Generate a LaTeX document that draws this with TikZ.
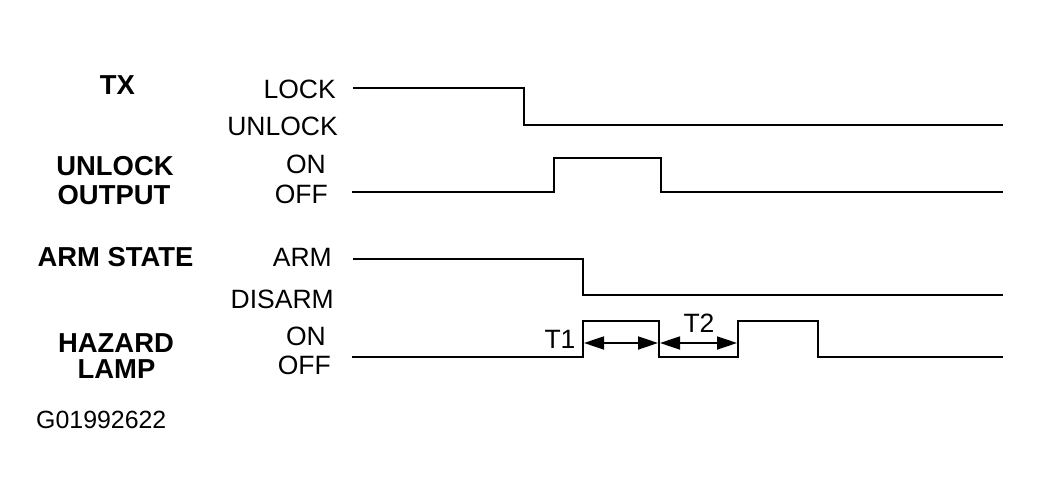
\documentclass[tikz,border=0pt]{standalone}
\usepackage{fontspec}
\setmainfont{Liberation Sans}
\usetikzlibrary{arrows.meta}
\begin{document}
\begin{tikzpicture}[x=1pt,y=-1pt,
  sig/.style={line width=2pt,line join=miter},
  lvl/.style={anchor=base,inner sep=0pt,font=\fontsize{26.5}{27}\selectfont},
  sname/.style={anchor=base,inner sep=0pt,font=\fontsize{27.4}{28}\selectfont\bfseries},
  dim/.style={line width=1.8pt,{Triangle[length=20pt,width=13pt]}-{Triangle[length=20pt,width=13pt]}}]
\useasboundingbox (0,0) rectangle (1044,503);
% left names
\node[sname] (tx) at (117.5,95) {TX};
\node[sname] (uo1) at (115,175) {UNLOCK};
\node[sname] (uo2) at (114,204) {OUTPUT};
\node[sname] (arm) at (115.5,266) {ARM STATE};
\node[sname] (hl1) at (116,352) {HAZARD};
\node[sname] (hl2) at (116.5,378) {LAMP};
\node[lvl,anchor=base west,font=\fontsize{24.9}{25}\selectfont] (code) at (36,428) {G01992622};
% levels
\node[lvl,anchor=base east] (lock) at (336,98) {LOCK};
\node[lvl,anchor=base east] (unlock) at (338,135) {UNLOCK};
\node[lvl] (on1) at (306,173) {ON};
\node[lvl,anchor=base east] (off1) at (328,203) {OFF};
\node[lvl,anchor=base east] (armlv) at (332,266) {ARM};
\node[lvl,anchor=base east] (disarm) at (334,308) {DISARM};
\node[lvl] (on2) at (306,345) {ON};
\node[lvl,anchor=base east] (off2) at (331,374) {OFF};
% waveforms
\draw[sig] (353,88) -- (524,88) -- (524,125) -- (1003,125);
\draw[sig] (352,192) -- (554,192) -- (554,158) -- (661,158) -- (661,192) -- (1003,192);
\draw[sig] (353,259) -- (583,259) -- (583,295) -- (1003,295);
\draw[sig] (352,357) -- (583,357) -- (583,321) -- (659,321) -- (659,357) -- (738,357) -- (738,321) -- (818,321) -- (818,357) -- (1003,357);
% timing arrows
\coordinate (a1) at (584,343);
\coordinate (a2) at (658,343);
\coordinate (b1) at (660,343);
\coordinate (b2) at (737,343);
\draw[dim] (a1) -- (a2);
\draw[dim] (b1) -- (b2);
\node[lvl] (t1) at (560,348) {T1};
\node[lvl] (t2) at (699,332) {T2};
\end{tikzpicture}
\end{document}
